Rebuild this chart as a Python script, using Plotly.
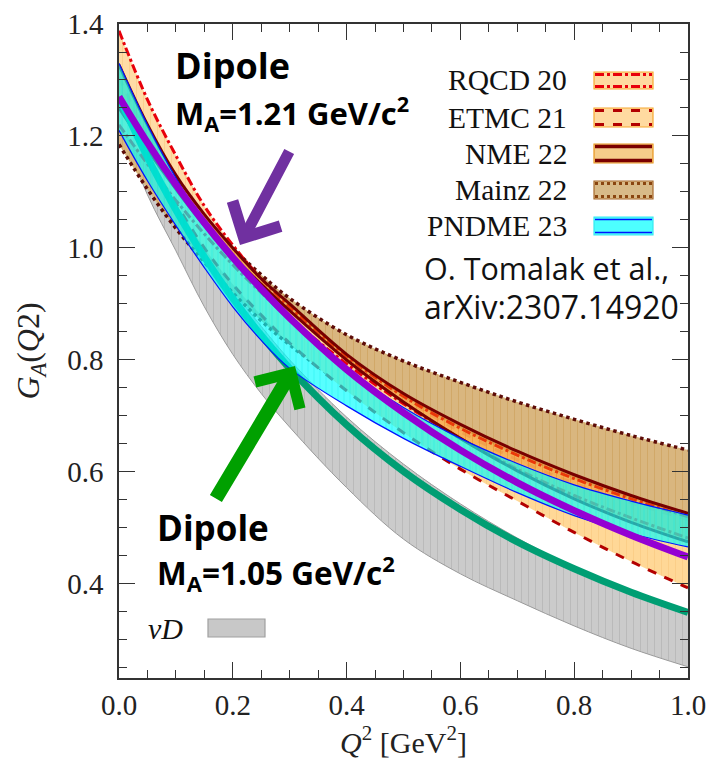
import plotly.graph_objects as go

# Q^2 grid [GeV^2]
q2 = [0.0, 0.05, 0.1, 0.15, 0.2, 0.25, 0.3, 0.4, 0.5, 0.6, 0.7, 0.8, 0.9, 1.0]

# dipole curves
dipole_121 = [1.270, 1.188, 1.113, 1.045, 0.983, 0.927, 0.875, 0.783, 0.706, 0.639, 0.581, 0.531, 0.487, 0.448]
dipole_105 = [1.270, 1.162, 1.068, 0.984, 0.910, 0.844, 0.785, 0.684, 0.601, 0.533, 0.475, 0.427, 0.385, 0.349]

# nu-deuterium band
nud_lo = [1.225, 1.095, 0.995, 0.895, 0.810, 0.740, 0.680, 0.572, 0.480, 0.418, 0.370, 0.325, 0.285, 0.252]
nud_hi = [1.275, 1.175, 1.080, 0.998, 0.925, 0.860, 0.800, 0.698, 0.614, 0.543, 0.482, 0.430, 0.386, 0.350]

# lattice QCD bands
mainz_lo = [1.185, 1.105, 1.035, 0.975, 0.920, 0.870, 0.827, 0.752, 0.690, 0.637, 0.590, 0.550, 0.515, 0.484]
mainz_hi = [1.268, 1.190, 1.120, 1.058, 1.000, 0.952, 0.910, 0.845, 0.798, 0.760, 0.725, 0.694, 0.665, 0.639]
etmc_lo = [1.255, 1.165, 1.080, 1.000, 0.935, 0.880, 0.830, 0.745, 0.670, 0.605, 0.548, 0.492, 0.440, 0.393]
etmc_hi = [1.305, 1.200, 1.115, 1.045, 0.990, 0.936, 0.890, 0.803, 0.732, 0.672, 0.622, 0.580, 0.545, 0.515]
rqcd_lo = [1.220, 1.150, 1.085, 1.025, 0.970, 0.920, 0.875, 0.793, 0.722, 0.660, 0.605, 0.558, 0.518, 0.482]
rqcd_hi = [1.388, 1.265, 1.165, 1.075, 1.005, 0.945, 0.895, 0.807, 0.735, 0.678, 0.630, 0.588, 0.552, 0.520]
nme_lo = [1.250, 1.175, 1.105, 1.040, 0.985, 0.935, 0.888, 0.800, 0.725, 0.660, 0.602, 0.552, 0.510, 0.475]
nme_hi = [1.327, 1.220, 1.130, 1.060, 1.000, 0.945, 0.900, 0.810, 0.740, 0.685, 0.637, 0.595, 0.558, 0.526]
pndme_lo = [1.210, 1.120, 1.040, 0.965, 0.895, 0.835, 0.785, 0.718, 0.660, 0.610, 0.563, 0.522, 0.490, 0.466]
pndme_hi = [1.330, 1.220, 1.125, 1.045, 0.980, 0.920, 0.870, 0.785, 0.715, 0.660, 0.615, 0.577, 0.548, 0.523]

legend_names = ["RQCD 20", "ETMC 21", "NME 22", "Mainz 22", "PNDME 23"]

SERIF = "Liberation Serif, Times New Roman, serif"
SANS = "Open Sans, Liberation Sans, Arial, sans-serif"

fig = go.Figure()


def band(lo, hi, fill, edge, dash, width, fg, size=6, solid=0.18):
    fig.add_trace(go.Scatter(x=q2, y=lo, mode="lines", line_shape="spline",
                             line=dict(color=edge, width=width, dash=dash),
                             hoverinfo="skip", showlegend=False))
    fig.add_trace(go.Scatter(x=q2, y=hi, mode="lines", line_shape="spline",
                             line=dict(color=edge, width=width, dash=dash),
                             fill="tonexty", fillcolor=fill,
                             fillpattern=dict(shape="|", size=size, solidity=solid,
                                              fgcolor=fg, bgcolor=fill),
                             hoverinfo="skip", showlegend=False))


# nu D extraction
band(nud_lo, nud_hi, "#cbcbcb", "#9a9a9a", "solid", 1.0, "#a9a9a9", size=7, solid=0.15)
# Mainz 22
band(mainz_lo, mainz_hi, "#d9b67f", "#5e0c08", "dot", 3.5, "#c99a52", size=7, solid=0.15)
# ETMC 21
band(etmc_lo, etmc_hi, "#ffd897", "#b30000", "dash", 3.0, "#f8c47a", size=7, solid=0.15)
# RQCD 20
band(rqcd_lo, rqcd_hi, "rgba(255,214,150,0.85)", "#e8000b", "dashdot", 3.0, "rgba(246,190,110,0.85)", size=7, solid=0.15)
# NME 22
band(nme_lo, nme_hi, "rgba(236,130,10,0.42)", "#780000", "solid", 3.0, "rgba(220,110,0,0.45)", size=7, solid=0.15)

# dipole with M_A = 1.05 GeV
fig.add_trace(go.Scatter(x=q2, y=dipole_105, mode="lines", line_shape="spline",
                         line=dict(color="#009e73", width=7), hoverinfo="skip", showlegend=False))

# PNDME 23
band(pndme_lo, pndme_hi, "rgba(0,255,255,0.66)", "#0014ff", "solid", 1.2, "rgba(0,225,225,0.66)", size=6, solid=0.15)

# dipole with M_A = 1.21 GeV
fig.add_trace(go.Scatter(x=q2, y=dipole_121, mode="lines", line_shape="spline",
                         line=dict(color="#9400d3", width=7), hoverinfo="skip", showlegend=False))

# plot area in pixels: x 119..688, y 24..678
def px(x):
    return (x - 119) / 569.0


def py(y):
    return (678 - y) / 654.0


shapes = []
# legend swatches
rows = [(72, 89), (108, 127), (144, 163), (181, 199), (217, 235)]
sw_fill = ["#ffdaa0", "#ffdaa0", "#f6cd8a", "#d8ba88", "#4dffff"]
sw_border = ["#f7a830", "#f7a830", "#e8961e", "#a8692c", "#38e8f0"]
sw_line = ["#e8000b", "#b30000", "#7a0000", "#8a4510", "#0014ff"]
sw_dash = ["dashdot", "dash", "solid", "dot", "solid"]
sw_w = [3, 3, 3.5, 3, 1.5]
for (y0, y1), f, b, lc, d, w in zip(rows, sw_fill, sw_border, sw_line, sw_dash, sw_w):
    shapes.append(dict(type="rect", xref="paper", yref="paper",
                       x0=px(594), x1=px(653), y0=py(y1), y1=py(y0),
                       fillcolor=f, line=dict(color=b, width=1.2)))
    for yy in (y0 + 2.5, y1 - 2.5):
        shapes.append(dict(type="line", xref="paper", yref="paper",
                           x0=px(595), x1=px(652), y0=py(yy), y1=py(yy),
                           line=dict(color=lc, width=w, dash=d)))
# nu D swatch
shapes.append(dict(type="rect", xref="paper", yref="paper",
                   x0=px(208), x1=px(265), y0=py(637), y1=py(619),
                   fillcolor="#c8c8c8", line=dict(color="#a0a0a0", width=1.2)))

annotations = []
for (y0, y1), name in zip(rows, legend_names):
    annotations.append(dict(xref="paper", yref="paper", x=px(569), y=py((y0 + y1) / 2),
                            text=name, showarrow=False, xanchor="right", yanchor="middle",
                            font=dict(family=SERIF, size=29.5, color="#111")))

annotations.append(dict(xref="paper", yref="paper", x=px(146), y=py(628),
                        text="<i>νD</i>", showarrow=False, xanchor="left", yanchor="middle",
                        font=dict(family=SERIF, size=30, color="#111")))

annotations.append(dict(xref="paper", yref="paper", x=px(422), y=py(268),
                        text="O. Tomalak et al.,", showarrow=False, xanchor="left", yanchor="middle",
                        font=dict(family=SANS, size=30.5, color="#111")))
annotations.append(dict(xref="paper", yref="paper", x=px(422), y=py(306),
                        text="arXiv:2307.14920", showarrow=False, xanchor="left", yanchor="middle",
                        font=dict(family=SANS, size=32, color="#111")))

annotations.append(dict(xref="paper", yref="paper", x=px(173), y=py(66),
                        text="<b>Dipole</b>", showarrow=False, xanchor="left", yanchor="middle",
                        font=dict(family=SANS, size=36, color="#000")))
annotations.append(dict(xref="paper", yref="paper", x=px(173), y=py(113),
                        text="<b>M<sub>A</sub>=1.21 GeV/c<sup>2</sup></b>", showarrow=False,
                        xanchor="left", yanchor="middle",
                        font=dict(family=SANS, size=31, color="#000")))
annotations.append(dict(xref="paper", yref="paper", x=px(155), y=py(527),
                        text="<b>Dipole</b>", showarrow=False, xanchor="left", yanchor="middle",
                        font=dict(family=SANS, size=35, color="#000")))
annotations.append(dict(xref="paper", yref="paper", x=px(155), y=py(573),
                        text="<b>M<sub>A</sub>=1.05 GeV/c<sup>2</sup></b>", showarrow=False,
                        xanchor="left", yanchor="middle",
                        font=dict(family=SANS, size=31.5, color="#000")))

# arrows pointing at the two dipole curves
annotations.append(dict(xref="paper", yref="paper", x=px(240), y=py(245),
                        axref="pixel", ayref="pixel", ax=50, ay=-95,
                        showarrow=True, arrowhead=4, arrowsize=0.95, arrowwidth=11,
                        arrowcolor="#7030a0", text=""))
annotations.append(dict(xref="paper", yref="paper", x=px(295), y=py(366),
                        axref="pixel", ayref="pixel", ax=-80, ay=134,
                        showarrow=True, arrowhead=4, arrowsize=0.72, arrowwidth=14,
                        arrowcolor="#00a000", text=""))

axis_common = dict(showline=True, linecolor="#333", linewidth=1.5, mirror="ticks",
                   ticks="inside", ticklen=16, tickwidth=1.3, tickcolor="#333",
                   showgrid=False, zeroline=False, tickformat=".1f", automargin=False,
                   tickfont=dict(family=SERIF, size=29, color="#222"),
                   minor=dict(ticks="inside", ticklen=8, tickwidth=1.2, tickcolor="#333",
                              dtick=0.05, showgrid=False))

fig.update_xaxes(range=[0, 1.0], dtick=0.2, tick0=0,
                 title=dict(text="<i>Q</i><sup>2</sup> [GeV<sup>2</sup>]",
                            font=dict(family=SERIF, size=30, color="#222"), standoff=12),
                 **axis_common)
fig.update_yaxes(range=[0.232, 1.4], dtick=0.2, tick0=0, ticklabelstandoff=8,
                 title=dict(text="<i>G<sub>A</sub></i>(<i>Q</i>2)",
                            font=dict(family=SERIF, size=32, color="#222"), standoff=18),
                 **axis_common)

fig.update_layout(width=708, height=761,
                  margin=dict(l=119, r=20, t=24, b=83),
                  paper_bgcolor="white", plot_bgcolor="white",
                  shapes=shapes, annotations=annotations, showlegend=False)

fig.write_html("out.html")
